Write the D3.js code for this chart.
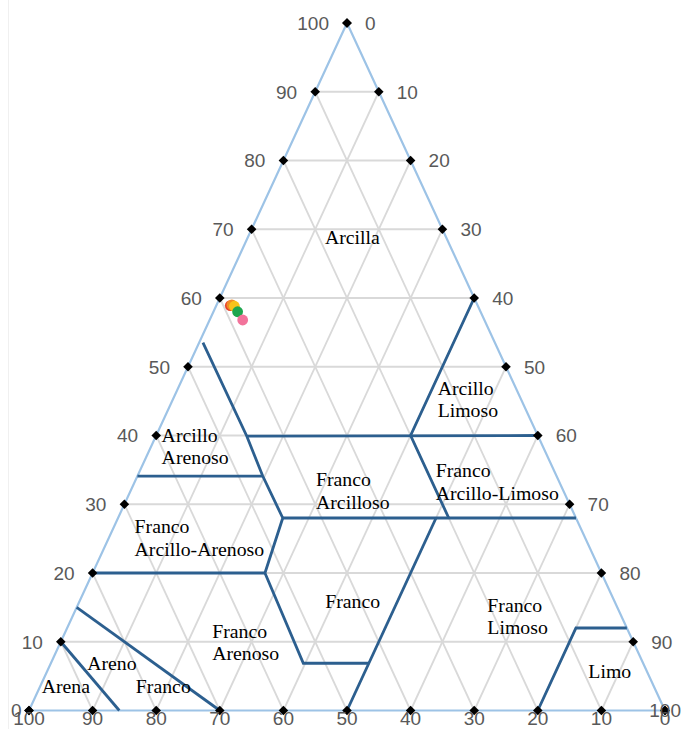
<!DOCTYPE html>
<html>
<head>
<meta charset="utf-8">
<script src="https://cdn.jsdelivr.net/npm/d3@7"></script>
<style>
  html, body { margin: 0; padding: 0; background: #fff; }
  svg { display: block; }
</style>
</head>
<body>
<svg id="chart" width="683" height="729"></svg>
<script>
// ---------- DATA ----------
// tick values (percent)
const clayTicks = [0, 10, 20, 30, 40, 50, 60, 70, 80, 90, 100];
const siltTicks = [0, 10, 20, 30, 40, 50, 60, 70, 80, 90, 100];
const sandTicks = [100, 90, 80, 70, 60, 50, 40, 30, 20, 10, 0];
const gridSteps = [10, 20, 30, 40, 50, 60, 70, 80, 90];

// sample points: clay %, silt %, sand %
const sampleClay = [58.9, 59.0, 58.8, 58.0, 56.8];
const sampleSilt = [2.2, 2.4, 2.9, 3.8, 5.2];
const sampleSand = [38.9, 38.6, 38.3, 38.2, 38.0];
const sampleColors = ["#e8412c", "#f08c26", "#f7c31c", "#1ea64f", "#f2739b"];

// texture class boundaries, polylines of [clay %, silt %]
const boundaryLines = [
  [[53.5, 0.6], [39.9, 14.3], [34.1, 19.7], [28.0, 25.9], [20.0, 27.1], [6.87, 39.7], [6.87, 50.0]],
  [[39.9, 14.3], [40, 60]],
  [[34.1, 0], [34.1, 19.7]],
  [[28.0, 25.9], [28.0, 72.0]],
  [[60, 40], [40, 40], [28.0, 52.0]],
  [[0, 50], [28.0, 50]],
  [[20, 0], [20.0, 27.1]],
  [[0, 80], [12, 80], [12, 88]],
  [[15, 0], [0, 30]],
  [[10, 0], [0, 14.2]]
];

// texture class names (Spanish) and anchor composition [clay %, silt %]
const classNames = [
  ["Arcilla"],
  ["Arcillo", "Limoso"],
  ["Arcillo", "Arenoso"],
  ["Franco", "Arcilloso"],
  ["Franco", "Arcillo-Limoso"],
  ["Franco", "Arcillo-Arenoso"],
  ["Franco"],
  ["Franco", "Limoso"],
  ["Franco", "Arenoso"],
  ["Limo"],
  ["Areno"],
  ["Franco"],
  ["Arena"]
];
const classAnchors = [
  [67.85, 12.6],
  [45.9, 41.3],
  [39.1, 1.3],
  [32.65, 28.8],
  [33.9, 47.0],
  [25.8, 3.7],
  [14.95, 39.1],
  [14.33, 64.9],
  [10.6, 23.5],
  [4.68, 85.6],
  [5.9, 6.2],
  [2.6, 15.5],
  [2.6, 0.7]
];

// ---------- DRAW ----------
const W = 683, H = 729;
const svg = d3.select("#chart");
svg.append("rect").attr("width", W).attr("height", H).attr("fill", "#fff");
svg.append("line").attr("x1", 8.5).attr("x2", 8.5).attr("y1", 0).attr("y2", H)
  .attr("stroke", "#f0f0f0").attr("stroke-width", 1);

// horizontal scale on (silt + clay/2), vertical scale on clay
const xs = d3.scaleLinear().domain([0, 100]).range([29, 665]);
const ys = d3.scaleLinear().domain([0, 100]).range([710.5, 23]);
const proj = ([c, t]) => [xs(t + c / 2), ys(c)];
const line = d3.line().x(d => proj(d)[0]).y(d => proj(d)[1]);

// grid
const gGrid = svg.append("g").attr("stroke", "#d9d9d9").attr("stroke-width", 1.8).attr("fill", "none");
gridSteps.forEach(k => {
  gGrid.append("path").attr("d", line([[k, 0], [k, 100 - k]]));           // clay const
  gGrid.append("path").attr("d", line([[0, k], [100 - k, k]]));           // silt const
  gGrid.append("path").attr("d", line([[0, 100 - k], [100 - k, 0]]));     // sand const
});

// triangle border
svg.append("path")
  .attr("d", line([[0, 0], [100, 0], [0, 100], [0, 0]]) + "Z")
  .attr("fill", "none").attr("stroke", "#9dc3e6").attr("stroke-width", 2.2)
  .attr("stroke-linejoin", "round");

// class boundaries
svg.append("g").selectAll("path").data(boundaryLines).join("path")
  .attr("d", d => line(d))
  .attr("fill", "none").attr("stroke", "#2c5f8f").attr("stroke-width", 2.8)
  .attr("stroke-linejoin", "miter");

// diamond tick markers
const diamond = d3.symbol(d3.symbolSquare, 46)();
const tickPts = [
  ...clayTicks.map(k => [k, 0]),
  ...siltTicks.map(k => [100 - k, k]),
  ...sandTicks.map(s => [0, 100 - s])
];
svg.append("g").selectAll("path").data(tickPts).join("path")
  .attr("d", diamond)
  .attr("transform", d => { const p = proj(d); return `translate(${p[0]},${p[1]}) rotate(45)`; })
  .attr("fill", "#000");

// tick labels
const tickFont = "'Liberation Sans', Arial, sans-serif";
const gTick = svg.append("g").attr("font-family", tickFont).attr("font-size", 19).attr("fill", "#595959");

gTick.selectAll("text.l").data(clayTicks).join("text").attr("class", "l")
  .attr("x", k => proj([k, 0])[0] - 18).attr("y", k => proj([k, 0])[1])
  .attr("dy", "0.36em").attr("text-anchor", "end").text(k => k)
  .each(function () {
    const b = this.getBBox();
    if (b.x < 11) d3.select(this).attr("x", +d3.select(this).attr("x") + (11 - b.x));
  });

gTick.selectAll("text.r").data(siltTicks).join("text").attr("class", "r")
  .attr("x", k => proj([100 - k, k])[0] + 18).attr("y", k => proj([100 - k, k])[1])
  .attr("dy", "0.36em").attr("text-anchor", "start").text(k => k)
  .each(function () {
    const b = this.getBBox();
    if (b.x + b.width > 681) d3.select(this).attr("x", +d3.select(this).attr("x") - (b.x + b.width - 681));
  });

gTick.selectAll("text.b").data(sandTicks).join("text").attr("class", "b")
  .attr("x", s => proj([0, 100 - s])[0]).attr("y", 725)
  .attr("text-anchor", "middle").text(s => s);

// class labels
const gLab = svg.append("g").attr("font-family", "'Liberation Serif', 'Times New Roman', serif")
  .attr("font-size", 19.8).attr("fill", "#000");
classNames.forEach((lines, i) => {
  const p = proj(classAnchors[i]);
  const t = gLab.append("text").attr("x", p[0]).attr("y", p[1]);
  lines.forEach((s, j) => {
    t.append("tspan").attr("x", p[0]).attr("dy", j === 0 ? 0 : 22.5).text(s);
  });
});

// sample points
const samples = sampleClay.map((c, i) => ({ clay: c, silt: sampleSilt[i], sand: sampleSand[i], color: sampleColors[i] }));
svg.append("g").selectAll("circle").data(samples).join("circle")
  .attr("cx", d => proj([d.clay, d.silt])[0])
  .attr("cy", d => proj([d.clay, d.silt])[1])
  .attr("r", 5.4)
  .attr("fill", d => d.color);
</script>
</body>
</html>
